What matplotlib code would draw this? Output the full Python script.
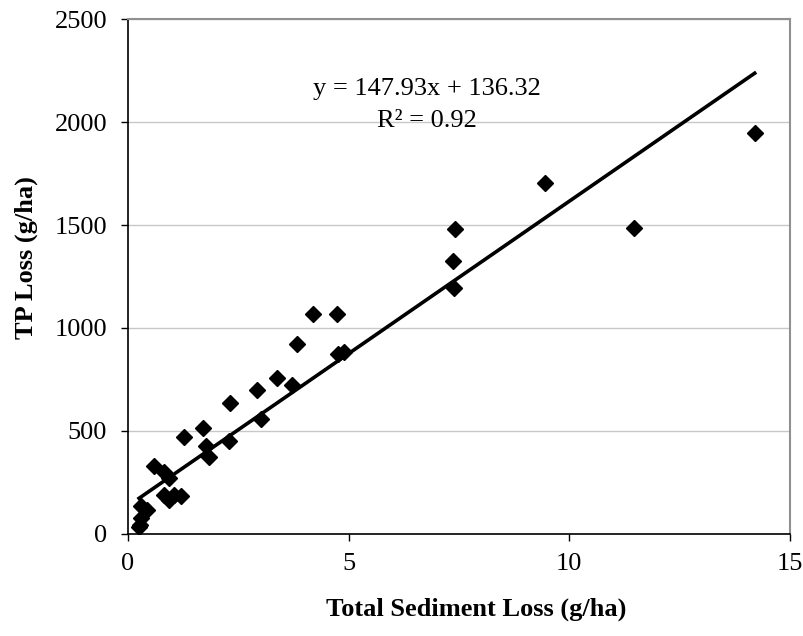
import matplotlib
matplotlib.use('Agg')
import matplotlib.pyplot as plt
import numpy as np

plt.rcParams['font.family'] = ['Liberation Serif', 'DejaVu Serif']

# sediment loss (g/ha) and TP loss (g/ha)
sed = [0.25, 0.28, 0.30, 0.30, 0.42, 0.60, 0.82, 0.94, 0.82, 0.92, 1.05, 1.20,
       1.28, 1.70, 1.76, 1.84, 2.29, 2.31, 2.92, 3.02, 3.38, 3.72, 3.84, 4.20,
       4.73, 4.75, 4.90, 7.36, 7.38, 7.40, 9.44, 11.46, 14.20]
tp = [33, 45, 77, 134, 118, 330, 300, 271, 190, 165, 190, 185,
      470, 515, 428, 372, 452, 635, 700, 556, 758, 725, 920, 1070,
      1070, 875, 882, 1325, 1195, 1483, 1703, 1486, 1948]

slope = 147.93
intercept = 136.32

fig = plt.figure(figsize=(8.04, 6.36), dpi=100)
ax = fig.add_axes([0.1592, 0.1604, 0.8234, 0.8097])

ax.plot(sed, tp, 'D', color='black', markersize=8.5, zorder=3)

xl = np.array([min(sed), max(sed)])
ax.plot(xl, slope * xl + intercept, '-', color='black', linewidth=2.6, zorder=4)

ax.set_xlim(0, 15)
ax.set_ylim(0, 2500)
ax.set_xticks([0, 5, 10, 15])
ax.set_yticks([0, 500, 1000, 1500, 2000, 2500])
ax.yaxis.grid(True, color='#c8c8c8', linewidth=1)
ax.set_axisbelow(True)

for s in ['top', 'right']:
    ax.spines[s].set_color('#909090')
    ax.spines[s].set_linewidth(1.5)
for s in ['left', 'bottom']:
    ax.spines[s].set_color('black')
    ax.spines[s].set_linewidth(1.2)

ax.tick_params(direction='out', length=5, width=1, labelsize=19)
ax.tick_params(axis='y', pad=10)
ax.tick_params(axis='x', pad=9)

ax.set_xlabel('Total Sediment Loss (g/ha)', fontsize=19, fontweight='bold')
ax.set_ylabel('TP Loss (g/ha)', fontsize=19, fontweight='bold')
ax.xaxis.set_label_coords(0.526, -0.124)
ax.yaxis.set_label_coords(-0.136, 0.536)

ax.text(6.77, 2131, 'y = 147.93x + 136.32', fontsize=19, ha='center', va='baseline')
ax.text(6.77, 1976, 'R² = 0.92', fontsize=19, ha='center', va='baseline')

fig.savefig('out.png', dpi=100)
